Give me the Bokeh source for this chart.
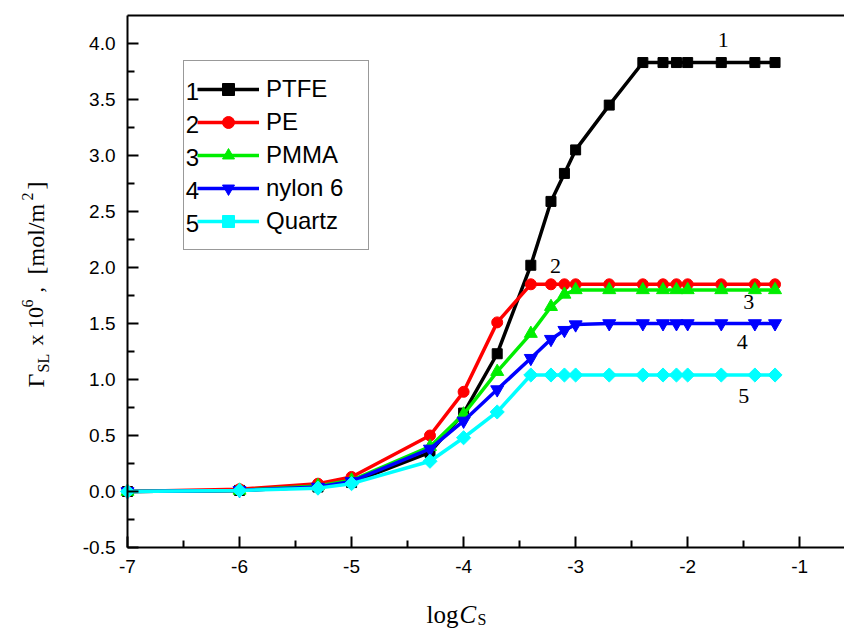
import numpy as np
from bokeh.plotting import figure
from bokeh.models import (ColumnDataSource, FixedTicker, PrintfTickFormatter,
                          Legend, LegendItem, Label, Range1d, LinearAxis)
from bokeh.embed import file_html
from bokeh.resources import INLINE

# ---------------- data ----------------
log_cs = [-7.0, -6.0, -5.3, -5.0, -4.3, -4.0, -3.7, -3.4, -3.22, -3.1,
          -3.0, -2.7, -2.4, -2.22, -2.1, -2.0, -1.7, -1.4, -1.22]
ptfe = [0.0, 0.01, 0.04, 0.08, 0.35, 0.70, 1.23, 2.02, 2.59, 2.84,
        3.05, 3.45, 3.83, 3.83, 3.83, 3.83, 3.83, 3.83, 3.83]
pe = [0.0, 0.02, 0.07, 0.13, 0.50, 0.89, 1.51, 1.85, 1.85, 1.85,
      1.85, 1.85, 1.85, 1.85, 1.85, 1.85, 1.85, 1.85, 1.85]
pmma = [0.0, 0.01, 0.05, 0.10, 0.40, 0.69, 1.07, 1.41, 1.65, 1.76,
        1.80, 1.80, 1.80, 1.80, 1.80, 1.80, 1.80, 1.80, 1.80]
nylon6 = [0.0, 0.01, 0.04, 0.09, 0.38, 0.63, 0.91, 1.19, 1.36, 1.44,
          1.49, 1.50, 1.50, 1.50, 1.50, 1.50, 1.50, 1.50, 1.50]
quartz = [0.0, 0.01, 0.03, 0.07, 0.27, 0.48, 0.71, 1.04, 1.04, 1.04,
          1.04, 1.04, 1.04, 1.04, 1.04, 1.04, 1.04, 1.04, 1.04]

series_names = ["PTFE", "PE", "PMMA", "nylon 6", "Quartz"]
series_numbers = ["1", "2", "3", "4", "5"]
series_values = [ptfe, pe, pmma, nylon6, quartz]

x_ticks = [-7, -6, -5, -4, -3, -2, -1]
x_minor = [-6.5, -5.5, -4.5, -3.5, -2.5, -1.5]
y_ticks = [-0.5, 0.0, 0.5, 1.0, 1.5, 2.0, 2.5, 3.0, 3.5, 4.0]
y_minor = [-0.25, 0.25, 0.75, 1.25, 1.75, 2.25, 2.75, 3.25, 3.75]

# ---------------- style ----------------
colors = ["#000000", "#ff0000", "#00ee00", "#0000ff", "#00ffff"]
markers = ["square", "circle", "triangle", "inverted_triangle", "square"]
marker_sizes = [10, 11, 13, 13, 10]
marker_angles = [0, 0, 0, 0, np.pi / 4]

W, H = 844, 628
# axes box in data units (left/bottom axes, top border)
AX_X0, AX_X1 = -7.0, -0.6
AX_Y0, AX_Y1 = -0.5, 4.25
# pixel position of the axes box inside the canvas
PX_LEFT, PX_TOP, PX_BOTTOM = 127, 15, 547
KX = (W - PX_LEFT) / (AX_X1 - AX_X0)          # px per x unit
KY = (PX_BOTTOM - PX_TOP) / (AX_Y1 - AX_Y0)    # px per y unit
# frame covers the whole canvas
X0 = AX_X0 - PX_LEFT / KX
X1 = AX_X1
Y1 = AX_Y0 + PX_BOTTOM / KY
Y0 = AX_Y0 - (H - PX_BOTTOM) / KY


def sx(px):
    return px


def sy(py):
    return H - py


p = figure(width=W, height=H, output_backend="svg", toolbar_location=None,
           x_range=Range1d(X0, X1), y_range=Range1d(Y0, Y1),
           min_border_left=0, min_border_right=0, min_border_top=0,
           min_border_bottom=0)
p.outline_line_color = None
p.grid.visible = False
p.background_fill_color = "white"
p.border_fill_color = "white"

for ax, ticks, minor, loc, bnds in ((p.xaxis[0], x_ticks, x_minor, AX_Y0, (AX_X0, AX_X1)),
                                    (p.yaxis[0], y_ticks, y_minor, AX_X0, (AX_Y0, AX_Y1))):
    ax.fixed_location = loc
    ax.bounds = bnds
    ax.ticker = FixedTicker(ticks=ticks, minor_ticks=minor)
    ax.axis_line_width = 2
    ax.axis_line_color = "black"
    ax.major_tick_line_width = 2
    ax.minor_tick_line_width = 2
    ax.major_tick_in = 11
    ax.major_tick_out = 0
    ax.minor_tick_in = 7
    ax.minor_tick_out = 0
    ax.major_label_text_font = "Liberation Sans"
    ax.major_label_text_font_size = "19px"
    ax.major_label_text_color = "black"
    ax.major_label_standoff = 12
    ax.axis_label = None

p.xaxis[0].formatter = PrintfTickFormatter(format="%d")
p.yaxis[0].formatter = PrintfTickFormatter(format="%.1f")

# top border of the axes box
top_axis = LinearAxis(fixed_location=AX_Y1, bounds=(AX_X0, AX_X1),
                      ticker=FixedTicker(ticks=[]), axis_line_width=2,
                      axis_line_color="black", major_tick_line_color=None,
                      minor_tick_line_color=None, major_label_text_font_size="0px")
p.add_layout(top_axis, "above")

items = []
for name, vals, col, mk, ms, ang in zip(series_names, series_values, colors,
                                         markers, marker_sizes, marker_angles):
    src = ColumnDataSource(dict(x=log_cs, y=vals))
    lr = p.line("x", "y", source=src, line_color=col, line_width=3.5)
    sr = p.scatter("x", "y", source=src, marker=mk, size=ms, angle=ang,
                   fill_color=col, line_color=col)
    items.append(LegendItem(label=name, renderers=[lr, sr]))

legend = Legend(items=items, location=(183, 378), glyph_width=62, glyph_height=30,
                label_height=20, label_width=89, spacing=3, padding=13,
                label_standoff=7,
                label_text_font="Liberation Sans", label_text_font_size="24px",
                label_text_color="black",
                border_line_color="#333333", border_line_width=1.5,
                background_fill_alpha=0.0, margin=0)
p.add_layout(legend)

# legend numbers
for i, num in enumerate(series_numbers):
    p.add_layout(Label(x=sx(192), y=sy(90.7 + 33 * i), x_units="screen", y_units="screen",
                       text=num, text_align="center", text_baseline="middle",
                       text_font="Liberation Sans", text_font_size="24px",
                       text_color="black"))

serif = "Liberation Serif"

# curve numbers
curve_label_px = [(722.7, 39), (555, 265), (748.3, 301.7), (741.7, 341.7), (743.3, 395)]
for num, (cx, cy) in zip(series_numbers, curve_label_px):
    p.add_layout(Label(x=sx(cx), y=sy(cy), x_units="screen", y_units="screen",
                       text=num, text_align="center", text_baseline="middle",
                       text_font=serif, text_font_size="22px", text_color="black"))

# x-axis title: logC_S
xlab_parts = [
    ("log", 426, 614, "25px", "normal"),
    ("C", 459, 614, "25px", "italic"),
    ("S", 477, 619, "16px", "normal"),
]
for txt, px, py, fs, style in xlab_parts:
    p.add_layout(Label(x=sx(px), y=sy(py), x_units="screen", y_units="screen",
                       text=txt, text_font=serif, text_font_size=fs,
                       text_font_style=style, text_baseline="alphabetic",
                       text_align="left", text_color="black"))

# y-axis title: Γ_SL x 10^6, [mol/m^2]  (rotated, reads bottom to top)
ylab_parts = [
    ("\u0393", 35, 387, "24px"),
    ("SL", 43, 372, "16px"),
    ("x 10", 35, 345, "22px"),
    ("6", 27, 307, "16px"),
    (",", 35, 292, "22px"),
    ("[mol/m", 35, 274, "24px"),
    ("2", 27, 200, "16px"),
    ("]", 35, 189, "24px"),
]
for txt, bx, by, fs in ylab_parts:
    p.add_layout(Label(x=sx(bx), y=sy(by), x_units="screen", y_units="screen",
                       text=txt, angle=np.pi / 2,
                       text_font=serif, text_font_size=fs,
                       text_align="left", text_baseline="alphabetic",
                       text_color="black"))

open("out.html", "w").write(file_html(p, INLINE))
